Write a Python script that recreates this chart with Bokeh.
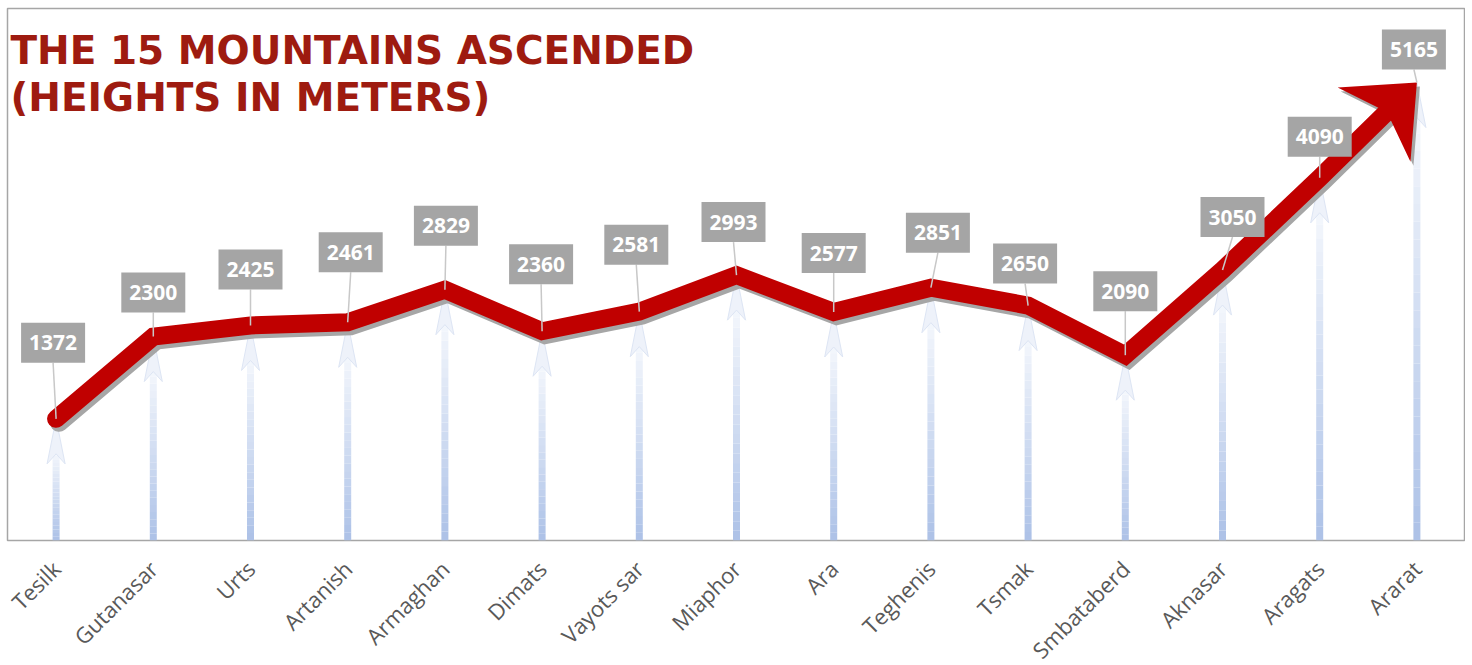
import numpy as np
from math import pi
from bokeh.plotting import figure
from bokeh.models import FixedTicker, Range1d, Label
from bokeh.core.properties import value
from bokeh.embed import file_html
from bokeh.resources import INLINE

# ---------------- data ----------------
mountains = ["Tesilk", "Gutanasar", "Urts", "Artanish", "Armaghan", "Dimats",
             "Vayots sar", "Miaphor", "Ara", "Teghenis", "Tsmak", "Smbataberd",
             "Aknasar", "Aragats", "Ararat"]
heights = [1372, 2300, 2425, 2461, 2829, 2360, 2581, 2993, 2577, 2851,
           2650, 2090, 3050, 4090, 5165]
title_lines = ["THE 15 MOUNTAINS ASCENDED", "(HEIGHTS IN METERS)"]

# label placement (pixel offsets of each value box from its point)
label_dx = [-3, 0, 0, 3, 1, -1, -3, -3, 0, 7, -3, 0, 10, 0, -3]
label_dy = [76, 44, 56, 70, 64, 67, 67, 53, 59, 55, 42, 64, 53, 41, 33]

# ---------------- geometry helpers ----------------
FW, FH = 1458, 532
YMAX = 6000
n = len(mountains)
xs = np.arange(n, dtype=float)
ys = np.array(heights, dtype=float)
PXX = FW / n
PXY = FH / YMAX


def dxp(px):
    return px / PXX


def dyp(px):
    return px / PXY


p = figure(frame_width=FW, frame_height=FH,
           x_range=Range1d(-0.5, n - 0.5), y_range=Range1d(0, YMAX),
           output_backend="svg", toolbar_location=None, y_axis_location=None,
           min_border_left=7, min_border_right=0, min_border_top=8,
           min_border_bottom=0)
p.background_fill_color = "white"
p.border_fill_color = "white"
p.outline_line_color = "#A6A6A6"
p.outline_line_width = 1.5
p.xgrid.visible = False
p.ygrid.visible = False

# ---------------- vertical gradient arrows ----------------
NSEG = 24
c_bot = np.array([0xAC, 0xC1, 0xE7], dtype=float)
c_top = np.array([0xF4, 0xF7, 0xFC], dtype=float)
HEAD_L = 45
sx0, sy0, sx1, sy1, scol = [], [], [], [], []
for i in range(n):
    top_y = ys[i] - dyp(HEAD_L - 12)
    b = np.linspace(0, top_y, NSEG + 1)
    for k in range(NSEG):
        t = (k + 0.5) / NSEG
        c = c_bot + (c_top - c_bot) * t
        sx0.append(xs[i]); sx1.append(xs[i])
        sy0.append(b[k]); sy1.append(b[k + 1])
        scol.append("#%02x%02x%02x" % tuple(int(round(v)) for v in c))
p.segment(sx0, sy0, sx1, sy1, line_color=scol, line_width=7, line_cap="butt")

hx, hy = [], []
for i in range(n):
    hx.append([xs[i], xs[i] + dxp(9), xs[i], xs[i] - dxp(9)])
    hy.append([ys[i], ys[i] - dyp(HEAD_L), ys[i] - dyp(HEAD_L - 10), ys[i] - dyp(HEAD_L)])
p.patches(hx, hy, fill_color="#EEF2FA", line_color="#DDE5F4", line_width=1)

# ---------------- main red line with arrow end ----------------
ux_px = (xs[-1] - xs[-2]) * PXX
uy_px = (ys[-1] - ys[-2]) * PXY
ln = np.hypot(ux_px, uy_px)
ux, uy = ux_px / ln, uy_px / ln  # unit vector (screen, y up)
line_x = xs.copy()
line_y = ys.copy()
line_x[-1] = xs[-1] - dxp(40 * ux)
line_y[-1] = ys[-1] - dyp(40 * uy)

SHX, SHY = 3, -4
p.line(line_x + dxp(SHX), line_y + dyp(SHY), line_color="#A6A6A6", line_width=18,
       line_join="miter", line_cap="round")

L, W, NOTCH = 60, 52, 42
nx, ny = -uy, ux
pts_px = [(0, 0),
          (-L * ux + W * nx, -L * uy + W * ny),
          (-NOTCH * ux, -NOTCH * uy),
          (-L * ux - W * nx, -L * uy - W * ny)]
ahx = [xs[-1] + dxp(a) for a, b in pts_px]
ahy = [ys[-1] + dyp(b) for a, b in pts_px]
p.patch([v + dxp(SHX) for v in ahx], [v + dyp(SHY) for v in ahy],
        fill_color="#A6A6A6", line_color=None)

p.line(line_x, line_y, line_color="#C00000", line_width=18,
       line_join="miter", line_cap="round")
p.patch(ahx, ahy, fill_color="#C00000", line_color=None)

# ---------------- value labels ----------------
bx = xs + np.array([dxp(v) for v in label_dx])
by = ys + np.array([dyp(v) for v in label_dy])
p.segment(bx, by - dyp(20), xs, ys, line_color="#C8C8C8", line_width=1.5)
p.rect(bx, by, width=64, height=40, width_units="screen", height_units="screen",
       fill_color="#A5A5A5", line_color=None)
p.text(bx, by, text=[str(h) for h in heights], text_font=value("Open Sans"),
       text_font_style="bold", text_font_size="21px", text_color="white",
       text_align="center", text_baseline="middle")

# ---------------- title ----------------
for j, (txt, base_px) in enumerate(zip(title_lines, [42, 89])):
    p.add_layout(Label(x=-0.5 + dxp(3), y=dyp(FH - base_px), text=txt,
                       text_font="DejaVu Sans", text_font_style="bold",
                       text_font_size="39px", text_color="#9E1B10",
                       text_baseline="alphabetic", text_align="left"))

# ---------------- x axis ----------------
ax = p.xaxis[0]
ax.ticker = FixedTicker(ticks=list(range(n)))
ax.major_label_overrides = {i: m for i, m in enumerate(mountains)}
ax.major_label_orientation = pi / 4
ax.major_label_text_font = "Open Sans"
ax.major_label_text_font_size = "22px"
ax.major_label_text_color = "#595959"
ax.major_label_standoff = 18
ax.axis_line_color = None
ax.major_tick_line_color = None
ax.minor_tick_line_color = None

open("out.html", "w").write(file_html(p, INLINE))
